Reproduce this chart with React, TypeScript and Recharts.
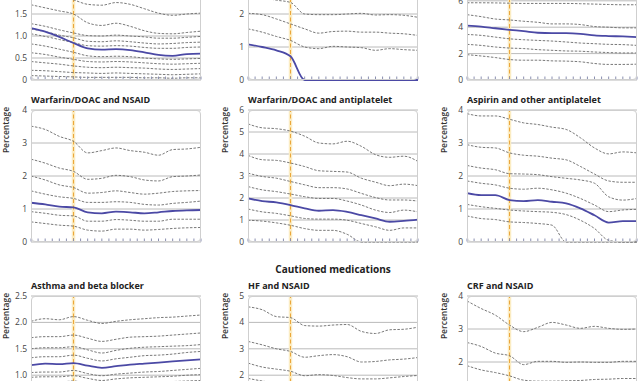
import React from "react";
import {
  LineChart,
  Line,
  XAxis,
  YAxis,
  CartesianGrid,
  ReferenceLine,
} from "recharts";

// time points (months) and the axis ticks
const PERIODS = [0, 2, 4, 6, 8, 10, 12, 14, 16, 18, 20, 22, 24];
const MONTH_TICKS = [0, 1, 2, 3, 4, 5, 6, 7, 8, 9, 10, 11, 12, 13, 14, 15, 16, 17, 18, 19, 20, 21, 22, 23, 24];
const CHANGE_POINT = 6;

// row 1, left
const P1_TICKS = [0, 0.5, 1, 1.5, 2, 2.5, 3];
const P1_MEDIAN = [1.18, 1.1, 0.98, 0.84, 0.72, 0.69, 0.7, 0.68, 0.63, 0.57, 0.55, 0.59, 0.6];
const P1_DASHED = [
  [2.1, 2.0, 1.9, 1.82, 1.72, 1.7, 1.76, 1.72, 1.62, 1.52, 1.47, 1.5, 1.52],
  [1.71, 1.64, 1.57, 1.5, 1.3, 1.24, 1.29, 1.22, 1.12, 1.06, 1.05, 1.08, 1.11],
  [1.28, 1.22, 1.14, 1.07, 1.01, 1.0, 1.02, 1.0, 0.98, 0.95, 0.95, 0.97, 0.99],
  [1.16, 1.1, 1.02, 0.96, 0.88, 0.87, 0.89, 0.87, 0.84, 0.82, 0.83, 0.85, 0.86],
  [1.05, 0.99, 0.92, 0.85, 0.78, 0.77, 0.78, 0.77, 0.74, 0.72, 0.72, 0.74, 0.75],
  [0.82, 0.77, 0.7, 0.63, 0.55, 0.53, 0.54, 0.53, 0.5, 0.48, 0.47, 0.48, 0.49],
  [0.62, 0.58, 0.52, 0.47, 0.42, 0.41, 0.42, 0.41, 0.39, 0.37, 0.36, 0.37, 0.38],
  [0.42, 0.39, 0.36, 0.32, 0.29, 0.28, 0.29, 0.28, 0.27, 0.25, 0.24, 0.25, 0.26],
  [0.22, 0.21, 0.19, 0.17, 0.16, 0.15, 0.16, 0.15, 0.14, 0.13, 0.12, 0.13, 0.14],
  [0.1, 0.09, 0.08, 0.07, 0.06, 0.06, 0.06, 0.06, 0.05, 0.05, 0.04, 0.05, 0.05],
];

// row 1, middle
const P2_TICKS = [0, 1, 2, 3, 4];
const P2_MEDIAN = [1.08, 1.0, 0.9, 0.72, 0, 0, 0, 0, 0, 0, 0, 0, 0];
const P2_DASHED = [
  [2.62, 2.5, 2.42, 2.35, 2.0, 1.98, 1.98, 2.0, 2.02, 1.97, 1.98, 1.96, 1.9],
  [2.02, 1.98, 1.85, 1.7, 1.55, 1.42, 1.47, 1.48, 1.45, 1.45, 1.42, 1.4, 1.35],
  [1.55, 1.45, 1.32, 1.2, 1.0, 0.95, 1.02, 1.0, 0.98, 0.9, 0.95, 0.92, 0.9],
];

// row 1, right
const P3_TICKS = [0, 2, 4, 6, 8, 10];
const P3_MEDIAN = [4.12, 4.05, 3.92, 3.8, 3.7, 3.58, 3.55, 3.55, 3.5, 3.38, 3.33, 3.3, 3.25];
const P3_DASHED = [
  [5.85, 5.85, 5.84, 5.82, 5.8, 5.8, 5.8, 5.8, 5.78, 5.75, 5.72, 5.7, 5.7],
  [4.95, 4.8, 4.62, 4.55, 4.45, 4.37, 4.25, 4.25, 4.2, 4.05, 4.0, 3.95, 3.95],
  [3.45, 3.38, 3.25, 3.12, 3.05, 3.0, 2.95, 2.88, 2.8, 2.75, 2.7, 2.68, 2.62],
  [2.7, 2.62, 2.5, 2.42, 2.38, 2.3, 2.25, 2.2, 2.18, 2.12, 2.08, 2.05, 2.05],
  [1.92, 1.82, 1.7, 1.55, 1.5, 1.5, 1.45, 1.43, 1.38, 1.25, 1.18, 1.18, 1.2],
];

// Warfarin/DOAC and NSAID
const P4_TICKS = [0, 1, 2, 3, 4];
const P4_MEDIAN = [1.19, 1.14, 1.07, 1.05, 0.9, 0.87, 0.92, 0.9, 0.87, 0.9, 0.94, 0.96, 0.97];
const P4_DASHED = [
  [3.51, 3.41, 3.2, 3.05, 2.7, 2.77, 2.85, 2.77, 2.72, 2.63, 2.8, 2.82, 2.87],
  [2.51, 2.39, 2.24, 2.14, 1.9, 1.93, 2.02, 1.98, 1.88, 1.85, 1.98, 2.0, 2.03],
  [2.0, 1.88, 1.73, 1.65, 1.48, 1.5, 1.55, 1.5, 1.45, 1.48, 1.53, 1.55, 1.56],
  [1.55, 1.45, 1.37, 1.32, 1.2, 1.2, 1.22, 1.2, 1.14, 1.12, 1.17, 1.2, 1.24],
  [0.92, 0.87, 0.81, 0.79, 0.63, 0.63, 0.68, 0.66, 0.63, 0.63, 0.69, 0.69, 0.69],
  [0.61, 0.56, 0.51, 0.48, 0.36, 0.33, 0.39, 0.39, 0.36, 0.38, 0.41, 0.43, 0.44],
];

// Warfarin/DOAC and antiplatelet
const P5_TICKS = [0, 1, 2, 3, 4, 5, 6];
const P5_MEDIAN = [1.98, 1.86, 1.8, 1.68, 1.53, 1.42, 1.45, 1.37, 1.22, 1.07, 0.92, 0.96, 1.02];
const P5_DASHED = [
  [5.37, 5.19, 5.15, 5.04, 4.81, 4.5, 4.46, 4.58, 4.35, 3.97, 3.85, 3.9, 3.66],
  [3.94, 3.74, 3.71, 3.59, 3.43, 3.24, 3.21, 3.18, 2.9, 2.72, 2.56, 2.63, 2.56],
  [3.13, 2.98, 2.9, 2.75, 2.6, 2.47, 2.47, 2.41, 2.21, 2.02, 1.91, 1.91, 1.86],
  [2.52, 2.37, 2.29, 2.18, 2.06, 1.98, 1.98, 1.86, 1.68, 1.45, 1.34, 1.45, 1.37],
  [1.5, 1.37, 1.3, 1.19, 1.07, 1.04, 1.04, 0.99, 0.84, 0.69, 0.53, 0.64, 0.64],
  [0.99, 0.95, 0.87, 0.76, 0.61, 0.53, 0.53, 0.35, 0, 0, 0, 0, 0],
];

// Aspirin and other antiplatelet
const P6_TICKS = [0, 1, 2, 3, 4];
const P6_MEDIAN = [1.48, 1.42, 1.42, 1.27, 1.24, 1.27, 1.22, 1.17, 1.02, 0.81, 0.59, 0.63, 0.63];
const P6_DASHED = [
  [3.89, 3.82, 3.82, 3.72, 3.61, 3.56, 3.48, 3.41, 3.16, 2.85, 2.67, 2.73, 2.7],
  [2.95, 2.87, 2.85, 2.7, 2.63, 2.6, 2.54, 2.49, 2.29, 2.06, 1.85, 1.81, 1.81],
  [2.32, 2.24, 2.19, 2.07, 2.06, 2.04, 1.98, 1.93, 1.88, 1.78, 1.37, 1.27, 1.32],
  [1.85, 1.78, 1.73, 1.63, 1.6, 1.63, 1.58, 1.48, 1.32, 1.12, 0.92, 0.97, 0.99],
  [1.14, 1.07, 1.02, 0.97, 0.94, 0.92, 0.9, 0.83, 0.66, 0.41, 0.05, 0, 0],
  [0.79, 0.71, 0.68, 0.61, 0.59, 0.56, 0.51, 0, 0, 0, 0, 0, 0],
];

// Asthma and beta blocker
const P7_TICKS = [0, 0.5, 1, 1.5, 2, 2.5];
const P7_MEDIAN = [1.19, 1.22, 1.21, 1.23, 1.18, 1.14, 1.17, 1.2, 1.22, 1.24, 1.26, 1.28, 1.3];
const P7_DASHED = [
  [2.02, 2.07, 2.05, 2.11, 2.04, 1.98, 2.02, 2.05, 2.07, 2.09, 2.1, 2.12, 2.14],
  [1.71, 1.73, 1.73, 1.76, 1.7, 1.64, 1.68, 1.72, 1.73, 1.74, 1.76, 1.78, 1.8],
  [1.5, 1.52, 1.52, 1.54, 1.48, 1.42, 1.47, 1.51, 1.53, 1.54, 1.55, 1.56, 1.58],
  [1.33, 1.35, 1.35, 1.38, 1.32, 1.27, 1.31, 1.34, 1.37, 1.38, 1.4, 1.43, 1.45],
  [1.05, 1.06, 1.06, 1.09, 1.03, 0.99, 1.02, 1.04, 1.06, 1.07, 1.09, 1.11, 1.13],
  [0.96, 0.97, 0.97, 0.99, 0.94, 0.9, 0.93, 0.95, 0.96, 0.97, 0.98, 1.0, 1.01],
  [0.86, 0.87, 0.87, 0.89, 0.84, 0.81, 0.83, 0.85, 0.86, 0.87, 0.88, 0.89, 0.9],
];

// HF and NSAID
const P8_TICKS = [0, 1, 2, 3, 4, 5];
const P8_MEDIAN = [1.55, 1.48, 1.4, 1.35, 1.25, 1.24, 1.25, 1.2, 1.15, 1.14, 1.16, 1.18, 1.2];
const P8_DASHED = [
  [4.59, 4.48, 4.22, 4.18, 3.88, 3.86, 3.9, 3.92, 3.66, 3.58, 3.72, 3.74, 3.82],
  [3.28, 3.15, 3.0, 2.9, 2.68, 2.74, 2.78, 2.7, 2.5, 2.52, 2.58, 2.61, 2.67],
  [2.46, 2.31, 2.23, 2.15, 1.98, 2.02, 1.99, 1.91, 1.86, 1.86, 1.9, 1.95, 1.99],
  [1.88, 1.78, 1.7, 1.62, 1.5, 1.48, 1.5, 1.45, 1.4, 1.38, 1.4, 1.42, 1.45],
];

// CRF and NSAID
const P9_TICKS = [0, 1, 2, 3, 4];
const P9_MEDIAN = [1.35, 1.28, 1.22, 1.15, 1.08, 1.05, 1.05, 1.06, 1.06, 1.08, 1.09, 1.1, 1.1];
const P9_DASHED = [
  [3.85, 3.62, 3.42, 3.12, 2.92, 3.05, 3.2, 3.12, 3.02, 3.08, 3.02, 2.99, 3.0],
  [2.59, 2.47, 2.27, 2.19, 1.92, 2.02, 2.02, 1.99, 2.0, 1.99, 1.99, 2.02, 2.02],
  [1.89, 1.76, 1.68, 1.58, 1.45, 1.42, 1.42, 1.43, 1.44, 1.47, 1.48, 1.5, 1.5],
];

const FONT = "'Open Sans', 'Noto Sans', sans-serif";
const COL_X = [31, 248, 467];
const ROW_Y = [-52, 110, 296];
const PLOT_W = 170;
const PLOT_H = 132;
const AXIS_W = 28;
const PAD = 8;

const fmt = (v: number, step: number) =>
  v === 0 ? "0" : step < 1 ? v.toFixed(1) : String(v);

// small upward tick mark drawn at the library's tick position
function TickMark(props: any) {
  const { x, y } = props;
  return (
    <line x1={x} x2={x} y1={y - 0.5} y2={y - 3.5} stroke="#8a8fb0" strokeWidth={1} />
  );
}

interface PanelProps {
  col: number;
  row: number;
  title?: string;
  ticks: number[];
  median: number[];
  dashed: number[][];
}

function Panel({ col, row, title, ticks, median, dashed }: PanelProps) {
  const left = COL_X[col];
  const top = ROW_Y[row];
  const step = ticks[1] - ticks[0];
  const data = PERIODS.map((p, i) => {
    const r: Record<string, number> = { x: p, median: median[i] };
    dashed.forEach((s, k) => {
      r["d" + k] = s[i];
    });
    return r;
  });

  return (
    <>
      {title && (
        <div
          style={{
            position: "absolute",
            left,
            top: top - 15,
            fontSize: 9,
            fontWeight: 700,
            color: "#222",
            lineHeight: "10px",
            whiteSpace: "nowrap",
          }}
        >
          {title}
        </div>
      )}
      {row > 0 && (
        <div
          style={{
            position: "absolute",
            left: COL_X[col] - (col === 0 ? 26 : 24),
            top: top + 20,
            transform: "translate(-50%, -50%) rotate(-90deg)",
            fontSize: 8.5,
            fontWeight: 600,
            color: "#333",
            whiteSpace: "nowrap",
          }}
        >
          Percentage
        </div>
      )}
      <div style={{ position: "absolute", left: left - AXIS_W, top: top - PAD }}>
        <LineChart
          width={AXIS_W + PLOT_W + 2}
          height={PLOT_H + 2 * PAD + 1}
          data={data}
          margin={{ top: PAD, right: 2, bottom: PAD, left: 0 }}
        >
          <CartesianGrid vertical={false} stroke="#a8a8a8" strokeWidth={0.8} />
          <XAxis
            dataKey="x"
            type="number"
            domain={[0, 24]}
            ticks={MONTH_TICKS}
            interval={0}
            height={1}
            axisLine={false}
            tickLine={false}
            tickSize={0}
            tickMargin={0}
            tick={<TickMark />}
          />
          <YAxis
            type="number"
            domain={[ticks[0], ticks[ticks.length - 1]]}
            ticks={ticks}
            interval={0}
            width={AXIS_W}
            axisLine={false}
            tickLine={false}
            tickSize={2}
            tickMargin={2}
            tick={{ fontSize: 8.5, fill: "#444", fontFamily: FONT }}
            tickFormatter={(v: number) => fmt(v, step)}
          />
          <ReferenceLine x={CHANGE_POINT} stroke="#fbecc2" strokeWidth={3.5} />
          <ReferenceLine
            x={CHANGE_POINT}
            stroke="#eba73c"
            strokeWidth={1}
            strokeDasharray="4 2.5"
          />
          {dashed.map((_, k) => (
            <Line
              key={k}
              dataKey={"d" + k}
              type="monotone"
              stroke="#6a6a6a"
              strokeWidth={0.9}
              strokeDasharray="2.5 1.5"
              dot={false}
              activeDot={false}
              isAnimationActive={false}
            />
          ))}
          <Line
            dataKey="median"
            type="monotone"
            stroke="#4b49a5"
            strokeWidth={1.8}
            dot={false}
            activeDot={false}
            isAnimationActive={false}
          />
        </LineChart>
      </div>
      <div
        style={{
          position: "absolute",
          left,
          top,
          width: PLOT_W,
          height: PLOT_H,
          border: "1px solid #cfcfcf",
          borderRadius: 4,
          boxSizing: "border-box",
          pointerEvents: "none",
        }}
      />
    </>
  );
}

export default function App() {
  return (
    <div
      style={{
        position: "absolute",
        left: 0,
        top: 0,
        width: 640,
        height: 381,
        overflow: "hidden",
        background: "#fff",
        fontFamily: FONT,
      }}
    >
      <Panel col={0} row={0} ticks={P1_TICKS} median={P1_MEDIAN} dashed={P1_DASHED} />
      <Panel col={1} row={0} ticks={P2_TICKS} median={P2_MEDIAN} dashed={P2_DASHED} />
      <Panel col={2} row={0} ticks={P3_TICKS} median={P3_MEDIAN} dashed={P3_DASHED} />
      <Panel col={0} row={1} title="Warfarin/DOAC and NSAID" ticks={P4_TICKS} median={P4_MEDIAN} dashed={P4_DASHED} />
      <Panel col={1} row={1} title="Warfarin/DOAC and antiplatelet" ticks={P5_TICKS} median={P5_MEDIAN} dashed={P5_DASHED} />
      <Panel col={2} row={1} title="Aspirin and other antiplatelet" ticks={P6_TICKS} median={P6_MEDIAN} dashed={P6_DASHED} />
      <div
        style={{
          position: "absolute",
          left: 333,
          top: 269,
          transform: "translate(-50%, -50%)",
          fontSize: 10,
          fontWeight: 700,
          color: "#222",
          whiteSpace: "nowrap",
        }}
      >
        Cautioned medications
      </div>
      <Panel col={0} row={2} title="Asthma and beta blocker" ticks={P7_TICKS} median={P7_MEDIAN} dashed={P7_DASHED} />
      <Panel col={1} row={2} title="HF and NSAID" ticks={P8_TICKS} median={P8_MEDIAN} dashed={P8_DASHED} />
      <Panel col={2} row={2} title="CRF and NSAID" ticks={P9_TICKS} median={P9_MEDIAN} dashed={P9_DASHED} />
    </div>
  );
}
